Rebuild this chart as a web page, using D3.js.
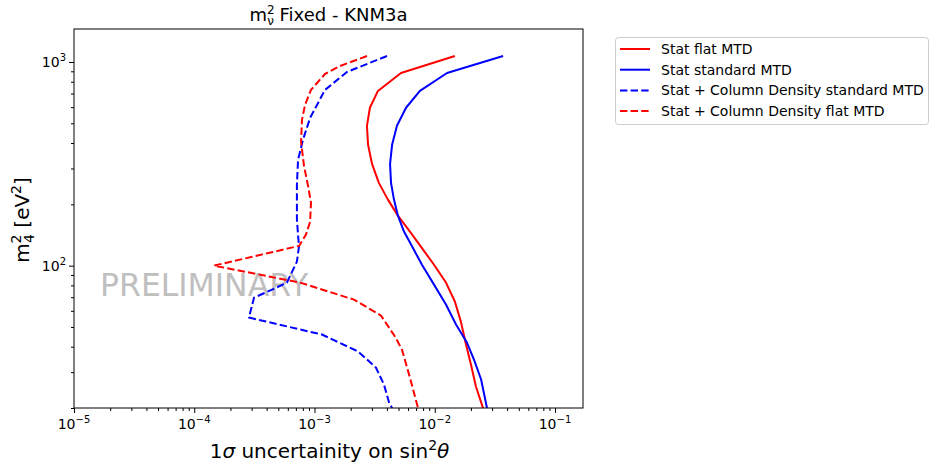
<!DOCTYPE html>
<html><head><meta charset="utf-8">
<script src="https://cdn.jsdelivr.net/npm/d3@7"></script>
<style>body{margin:0;background:#fff}svg{display:block;font-family:"DejaVu Sans",sans-serif}</style>
</head><body><svg id="c" width="930" height="463"></svg>
<script>
// ---- data (m4^2 in eV^2, 1 sigma uncertainty on sin^2 theta) ----
const statFlatM4 = [1070, 883, 721, 596, 486, 392, 316, 255, 211, 176, 147, 122, 101, 82.6, 66.7, 53.1, 41.0, 32.7, 25.5, 20];
const statFlatSin = [0.0147, 0.00524, 0.00337, 0.00289, 0.00273, 0.00279, 0.00301, 0.00343, 0.00408, 0.00494, 0.00622, 0.00783, 0.00986, 0.0124, 0.0147, 0.0165, 0.0182, 0.0200, 0.0220, 0.0252];
const statStdM4 = [1070, 883, 721, 596, 486, 392, 316, 255, 211, 176, 147, 122, 101, 80.7, 64.4, 51.4, 41.9, 34.6, 27.6, 20];
const statStdSin = [0.0370, 0.01265, 0.00753, 0.00577, 0.00485, 0.00442, 0.00425, 0.00433, 0.00458, 0.00494, 0.00555, 0.00659, 0.00783, 0.00986, 0.0124, 0.01503, 0.01853, 0.0212, 0.0243, 0.0272];
const cdStdM4 = [1070, 893, 729, 531, 415, 331, 249, 168, 124, 104.6, 82.6, 76.3, 69.6, 55.6, 45.9, 37.9, 31.6, 26.1, 21.3, 20];
const cdStdSin = [0.00401, 0.00186, 0.001222, 0.000919, 0.000802, 0.00073, 0.000714, 0.000714, 0.000743, 0.000714, 0.00059, 0.000444, 0.000314, 0.000285, 0.001153, 0.0023, 0.00324, 0.00378, 0.00417, 0.00442];
const cdFlatM4 = [1070, 955, 873, 729, 615, 520, 406, 309, 247, 204, 164, 142, 125, 100, 82.6, 68.1, 56.9, 44.9, 38.7, 28.2, 20];
const cdFlatSin = [0.00273, 0.00163, 0.001222, 0.000935, 0.000834, 0.000787, 0.000773, 0.000818, 0.000883, 0.000935, 0.000919, 0.000849, 0.000743, 0.000146, 0.000757, 0.00213, 0.00357, 0.00467, 0.00534, 0.00622, 0.00726];

const seriesNames = ["Stat flat MTD", "Stat standard MTD", "Stat + Column Density standard MTD", "Stat + Column Density flat MTD"];
const xTickValues = [1e-5, 1e-4, 1e-3, 1e-2, 1e-1];
const xTickExps = ["\u22125", "\u22124", "\u22123", "\u22122", "\u22121"];
const yTickValues = [100, 1000];
const yTickExps = ["2", "3"];
const xDomain = [1e-5, 0.171];
const yDomain = [20, 1452];

const series = [
  {name: seriesNames[0], x: statFlatSin, y: statFlatM4, color: "#ff0000", dash: null},
  {name: seriesNames[1], x: statStdSin, y: statStdM4, color: "#0000ff", dash: null},
  {name: seriesNames[2], x: cdStdSin, y: cdStdM4, color: "#0000ff", dash: "7.4,3.2"},
  {name: seriesNames[3], x: cdFlatSin, y: cdFlatM4, color: "#ff0000", dash: "7.4,3.2"}
];

const L = 74, R = 583, T = 29, B = 408;
const svg = d3.select("#c");
const x = d3.scaleLog().domain(xDomain).range([L, R]);
const y = d3.scaleLog().domain(yDomain).range([B, T]);

svg.append("defs").append("clipPath").attr("id", "clip")
  .append("rect").attr("x", L).attr("y", T).attr("width", R - L).attr("height", B - T);

// watermark
svg.append("text").attr("x", 100).attr("y", 296).attr("font-size", 31.5)
  .attr("fill", "#bfbfbf").text("PRELIMINARY");

// lines
const line = d3.line().x(d => x(d[0])).y(d => y(d[1]));
const g = svg.append("g").attr("clip-path", "url(#clip)");
series.forEach(s => {
  g.append("path").datum(s.x.map((v, i) => [v, s.y[i]]))
    .attr("d", line).attr("fill", "none").attr("stroke", s.color)
    .attr("stroke-width", 2).attr("stroke-dasharray", s.dash)
    .attr("stroke-linejoin", "round");
});

// axes
const xMinor = [];
for (let e = -5; e <= -1; e++) for (let k = 2; k <= 9; k++) { const v = k * Math.pow(10, e); if (v <= xDomain[1]) xMinor.push(v); }
const yMinor = [];
for (let e = 1; e <= 3; e++) for (let k = 2; k <= 9; k++) { const v = k * Math.pow(10, e); if (v >= yDomain[0] && v <= yDomain[1]) yMinor.push(v); }

const xAxisMajor = d3.axisBottom(x).tickValues(xTickValues).tickSize(5).tickFormat("");
const xAxisMinor = d3.axisBottom(x).tickValues(xMinor).tickSize(3).tickFormat("");
const yAxisMajor = d3.axisLeft(y).tickValues(yTickValues).tickSize(5).tickFormat("");
const yAxisMinor = d3.axisLeft(y).tickValues(yMinor).tickSize(3).tickFormat("");
[[xAxisMajor, `translate(0,${B})`], [xAxisMinor, `translate(0,${B})`], [yAxisMajor, `translate(${L},0)`], [yAxisMinor, `translate(${L},0)`]].forEach(([ax, tr]) => {
  const ga = svg.append("g").attr("transform", tr).call(ax);
  ga.select(".domain").remove();
  ga.selectAll("line").attr("stroke", "#000").attr("stroke-width", 1);
});

// tick labels
xTickValues.forEach((v, i) => {
  const t = svg.append("text").attr("x", x(v)).attr("y", 429).attr("text-anchor", "middle").attr("font-size", 14).attr("fill", "#000");
  t.append("tspan").text("10");
  t.append("tspan").attr("dy", -6).attr("font-size", 10).text(xTickExps[i]);
});
yTickValues.forEach((v, i) => {
  const t = svg.append("text").attr("x", 66).attr("y", y(v) + 5).attr("text-anchor", "end").attr("font-size", 14).attr("fill", "#000");
  t.append("tspan").text("10");
  t.append("tspan").attr("dy", -6).attr("font-size", 10).text(yTickExps[i]);
});

// frame
svg.append("rect").attr("x", L).attr("y", T).attr("width", R - L).attr("height", B - T)
  .attr("fill", "none").attr("stroke", "#000").attr("stroke-width", 1);

// title
const title = svg.append("text").attr("x", (L + R) / 2).attr("y", 21).attr("text-anchor", "middle").attr("font-size", 18);
title.append("tspan").text("m");
title.append("tspan").attr("dy", -7).attr("font-size", 12).text("2");
title.append("tspan").attr("dx", -7.6).attr("dy", 11).attr("font-size", 12).text("\u03bd");
title.append("tspan").attr("dy", -4).text(" Fixed - KNM3a");

// x label
const xl = svg.append("text").attr("x", (L + R) / 2 + 1).attr("y", 458).attr("text-anchor", "middle").attr("font-size", 20);
xl.append("tspan").text("1");
xl.append("tspan").attr("font-style", "italic").text("\u03c3");
xl.append("tspan").text(" uncertainity on sin");
xl.append("tspan").attr("dy", -8).attr("font-size", 14).text("2");
xl.append("tspan").attr("dy", 8).attr("font-style", "italic").text("\u03b8");

// y label
const yl = svg.append("text").attr("transform", "translate(29,220) rotate(-90)").attr("text-anchor", "middle").attr("font-size", 20);
yl.append("tspan").text("m");
yl.append("tspan").attr("dy", -8).attr("font-size", 14).text("2");
yl.append("tspan").attr("dx", -8.5).attr("dy", 13).attr("font-size", 14).text("4");
yl.append("tspan").attr("dy", -5).text(" [eV");
yl.append("tspan").attr("dy", -8).attr("font-size", 14).text("2");
yl.append("tspan").attr("dy", 8).text("]");

// legend
const lg = svg.append("g");
lg.append("rect").attr("x", 615.5).attr("y", 37.5).attr("width", 313).attr("height", 87).attr("rx", 3)
  .attr("fill", "#fff").attr("stroke", "#cccccc").attr("stroke-width", 1);
series.forEach((s, i) => {
  const cy = 49 + i * 20.7;
  lg.append("line").attr("x1", 620).attr("x2", 650).attr("y1", cy).attr("y2", cy)
    .attr("stroke", s.color).attr("stroke-width", 2).attr("stroke-dasharray", s.dash);
  lg.append("text").attr("x", 661).attr("y", cy + 5).attr("font-size", 14).text(s.name);
});
</script></body></html>
